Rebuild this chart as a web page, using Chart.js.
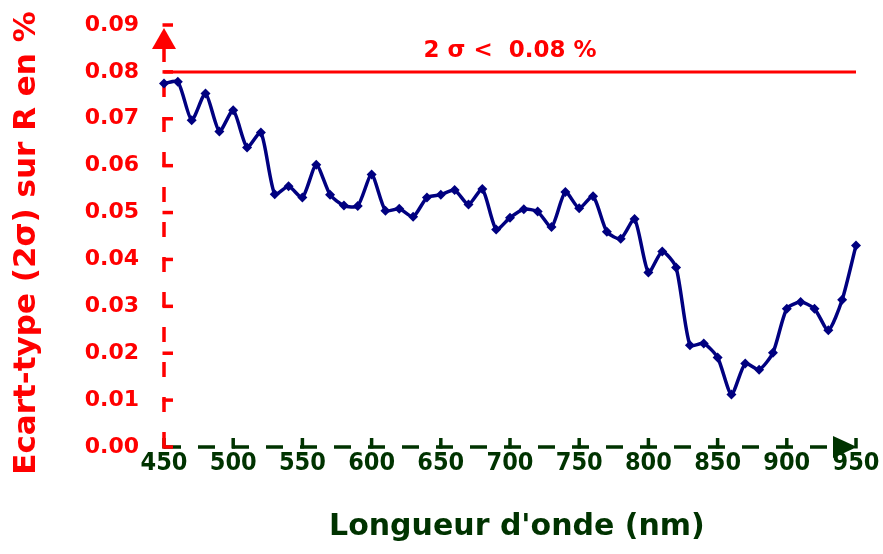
<!DOCTYPE html>
<html>
<head>
<meta charset="utf-8">
<script src="https://cdn.jsdelivr.net/npm/chart.js@4/dist/chart.umd.min.js"></script>
<style>
  html, body { margin: 0; padding: 0; background: #ffffff; }
  #wrap { width: 883px; height: 554px; }
</style>
</head>
<body>
<div id="wrap"><canvas id="c" width="883" height="554"></canvas></div>
<script>
// Wavelengths (nm) and the measured 2-sigma spread of R (%)
const wavelengths = [450, 460, 470, 480, 490, 500, 510, 520, 530, 540,
                     550, 560, 570, 580, 590, 600, 610, 620, 630, 640,
                     650, 660, 670, 680, 690, 700, 710, 720, 730, 740,
                     750, 760, 770, 780, 790, 800, 810, 820, 830, 840,
                     850, 860, 870, 880, 890, 900, 910, 920, 930, 940, 950];
const sigma2 = [0.0775, 0.0779, 0.0697, 0.0754, 0.0673, 0.0718, 0.0639, 0.0671, 0.0539, 0.0556,
                0.0532, 0.0602, 0.0538, 0.0515, 0.0514, 0.0581, 0.0504, 0.0508, 0.0491, 0.0532,
                0.0538, 0.0548, 0.0517, 0.0550, 0.0464, 0.0489, 0.0507, 0.0502, 0.0469, 0.0544,
                0.0509, 0.0535, 0.0459, 0.0444, 0.0486, 0.0372, 0.0417, 0.0383, 0.0217, 0.0221,
                0.0191, 0.0112, 0.0178, 0.0165, 0.0201, 0.0295, 0.0309, 0.0295, 0.0249, 0.0314,
                0.0430];
const xTicks = [450, 500, 550, 600, 650, 700, 750, 800, 850, 900, 950];
const yTicks = [0.00, 0.01, 0.02, 0.03, 0.04, 0.05, 0.06, 0.07, 0.08, 0.09];
const limit = 0.08;
const limitLabel = '2 \u03c3 <  0.08 %';
const xTitle = "Longueur d'onde (nm)";
const yTitle = 'Ecart-type (2\u03c3) sur R en %';

const RED = '#ff0000';
const GREEN = '#003300';
const NAVY = '#000080';
const FONT = '"DejaVu Sans", "Liberation Sans", Arial, sans-serif';
const NARROW = '"DejaVu Sans Condensed", "DejaVu Sans", Arial, sans-serif';

// Dashed axes with inner tick marks, arrow heads, the limit line and the titles
const axisDecor = {
  id: 'axisDecor',
  beforeDatasetsDraw(chart) {
    const { ctx, chartArea: a, scales: { x, y } } = chart;
    ctx.save();

    // limit line and its label
    const yl = y.getPixelForValue(limit);
    ctx.strokeStyle = RED;
    ctx.lineWidth = 3;
    ctx.beginPath();
    ctx.moveTo(a.left, yl);
    ctx.lineTo(a.right, yl);
    ctx.stroke();
    ctx.fillStyle = RED;
    ctx.font = 'bold 23px ' + FONT;
    ctx.textAlign = 'center';
    ctx.textBaseline = 'middle';
    ctx.fillText(limitLabel, x.getPixelForValue(700), yl - 21);

    // x axis: dashed dark green line, inner ticks, arrow head
    const y0 = y.getPixelForValue(0);
    ctx.strokeStyle = GREEN;
    ctx.lineWidth = 3.5;
    ctx.setLineDash([17, 17]);
    ctx.beginPath();
    ctx.moveTo(a.left, y0);
    ctx.lineTo(a.right - 22, y0);
    ctx.stroke();
    ctx.setLineDash([]);
    xTicks.forEach(v => {
      const px = x.getPixelForValue(v);
      ctx.beginPath();
      ctx.moveTo(px, y0 + 1.5);
      ctx.lineTo(px, y0 - 9);
      ctx.stroke();
    });
    ctx.fillStyle = GREEN;
    ctx.beginPath();
    ctx.moveTo(a.right + 1, y0);
    ctx.lineTo(a.right - 23, y0 - 11);
    ctx.lineTo(a.right - 23, y0 + 11);
    ctx.closePath();
    ctx.fill();

    // y axis: dashed red line, inner ticks, arrow head
    ctx.strokeStyle = RED;
    ctx.lineWidth = 3.5;
    ctx.setLineDash([15, 20]);
    ctx.beginPath();
    ctx.moveTo(a.left, y0);
    ctx.lineTo(a.left, a.top + 24);
    ctx.stroke();
    ctx.setLineDash([]);
    yTicks.forEach(v => {
      const py = y.getPixelForValue(v);
      ctx.beginPath();
      ctx.moveTo(a.left - 1.5, py);
      ctx.lineTo(a.left + 9, py);
      ctx.stroke();
    });
    ctx.fillStyle = RED;
    ctx.beginPath();
    ctx.moveTo(a.left, a.top + 3);
    ctx.lineTo(a.left - 12, a.top + 24);
    ctx.lineTo(a.left + 12, a.top + 24);
    ctx.closePath();
    ctx.fill();

    // axis titles
    ctx.fillStyle = GREEN;
    ctx.font = 'bold 30px ' + FONT;
    ctx.textAlign = 'center';
    ctx.textBaseline = 'middle';
    ctx.fillText(xTitle, x.getPixelForValue(705), 527);

    ctx.fillStyle = RED;
    ctx.font = 'bold 31px ' + FONT;
    ctx.translate(27, 243);
    ctx.rotate(-Math.PI / 2);
    ctx.fillText(yTitle, 0, 0);

    ctx.restore();
  }
};

new Chart(document.getElementById('c'), {
  type: 'line',
  data: {
    datasets: [{
      data: wavelengths.map((w, i) => ({ x: w, y: sigma2[i] })),
      borderColor: NAVY,
      backgroundColor: NAVY,
      borderWidth: 3.5,
      tension: 0.22,
      pointStyle: 'rectRot',
      pointRadius: 5,
      pointBorderWidth: 0,
      pointBackgroundColor: NAVY,
      clip: false
    }]
  },
  options: {
    responsive: false,
    animation: false,
    events: [],
    layout: { padding: { top: 25, right: 27, left: 0, bottom: 0 } },
    plugins: { legend: { display: false }, tooltip: { enabled: false } },
    scales: {
      x: {
        type: 'linear',
        min: 450,
        max: 950,
        afterFit: s => { s.height = 107; s.paddingLeft = 0; s.paddingRight = 0; },
        afterBuildTicks: s => { s.ticks = xTicks.map(v => ({ value: v })); },
        border: { display: false },
        grid: { display: false, drawTicks: false },
        ticks: {
          padding: 4,
          color: GREEN,
          maxRotation: 0,
          font: { family: NARROW, weight: 'bold', size: 25, lineHeight: 1 },
          callback: v => String(v)
        }
      },
      y: {
        type: 'linear',
        min: 0,
        max: 0.09,
        afterFit: s => { s.width = 164; s.paddingTop = 0; s.paddingBottom = 0; },
        afterBuildTicks: s => { s.ticks = yTicks.map(v => ({ value: v })); },
        border: { display: false },
        grid: { display: false, drawTicks: false },
        ticks: {
          padding: 25,
          color: RED,
          font: { family: FONT, weight: 'bold', size: 22 },
          callback: v => v.toFixed(2)
        }
      }
    }
  },
  plugins: [axisDecor]
});
</script>
</body>
</html>
